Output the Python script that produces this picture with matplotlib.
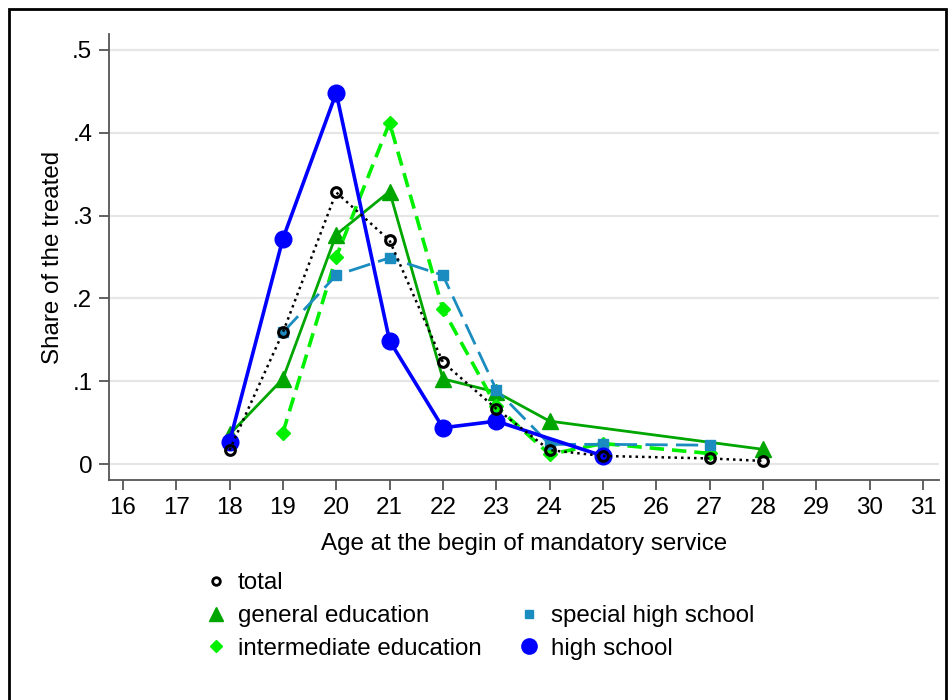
import matplotlib.pyplot as plt
from matplotlib.lines import Line2D
from matplotlib.patches import Rectangle

plt.rcParams['font.family'] = ['Liberation Sans', 'DejaVu Sans']

# Age at the begin of mandatory service, share of the treated
age_total = [18, 19, 20, 21, 22, 23, 24, 25, 27, 28]
share_total = [0.017, 0.159, 0.328, 0.270, 0.123, 0.067, 0.017, 0.010, 0.007, 0.004]

age_general = [18, 19, 20, 21, 22, 23, 24, 28]
share_general = [0.036, 0.103, 0.277, 0.329, 0.103, 0.087, 0.052, 0.018]

age_inter = [19, 20, 21, 22, 23, 24, 25, 27]
share_inter = [0.038, 0.250, 0.412, 0.187, 0.070, 0.012, 0.025, 0.013]

age_special = [19, 20, 21, 22, 23, 24, 25, 27]
share_special = [0.159, 0.228, 0.249, 0.228, 0.090, 0.024, 0.024, 0.023]

age_high = [18, 19, 20, 21, 22, 23, 25]
share_high = [0.027, 0.272, 0.448, 0.149, 0.044, 0.052, 0.010]

xticks = list(range(16, 32))
yticks = [0, 0.1, 0.2, 0.3, 0.4, 0.5]
yticklabels = ["0", ".1", ".2", ".3", ".4", ".5"]

fig = plt.figure(figsize=(9.52, 7.0), dpi=100)
ax = fig.add_axes([0.1145, 0.3143, 0.8718, 0.6371])

# outer frame
fig.patches.append(Rectangle((9 / 952, -0.05), (946 - 9) / 952, 1.05 - 9 / 700,
                             transform=fig.transFigure, fill=False,
                             edgecolor='black', linewidth=2))

c_general = '#00a600'
c_inter = '#00f000'
c_special = '#1a8cbf'
c_high = '#0000ff'

ax.plot(age_general, share_general, color=c_general, lw=2, marker='^', ms=11,
        label='general education', zorder=3)
ax.plot(age_inter, share_inter, color=c_inter, lw=2.6, ls=(0, (4, 2.2)), marker='D', ms=7.5,
        label='intermediate education', zorder=4)
ax.plot(age_special, share_special, color=c_special, lw=2, ls=(0, (8, 3)), marker='s', ms=7.5,
        label='special high school', zorder=5)
ax.plot(age_high, share_high, color=c_high, lw=2.6, marker='o', ms=12,
        label='high school', zorder=6)
ax.plot(age_total, share_total, color='black', lw=1.8, ls=(0, (1, 1.6)), marker='o', ms=7,
        mfc='none', mew=2.2, label='total', zorder=7)

ax.set_xlim(15.74, 31.3)
ax.set_ylim(-0.019, 0.519)
ax.set_xticks(xticks)
ax.set_yticks(yticks)
ax.set_yticklabels(yticklabels)
ax.grid(axis='y', color='#e6e6e6', lw=1.6)
ax.set_axisbelow(True)
for s in ['top', 'right']:
    ax.spines[s].set_visible(False)
for s in ['left', 'bottom']:
    ax.spines[s].set_color('#555555')
    ax.spines[s].set_linewidth(1.3)
ax.tick_params(direction='out', length=7, width=1.3, color='#555555',
               labelsize=17.4, pad=5)
ax.set_xlabel('Age at the begin of mandatory service', fontsize=17.4, labelpad=10)
ax.set_ylabel('Share of the treated', fontsize=17.4, labelpad=6)

def mk(marker, color, ms, mfc=None, mew=1):
    return Line2D([], [], ls='none', marker=marker, color=color, ms=ms,
                  mfc=mfc if mfc else color, mew=mew)

handles = [mk('o', 'black', 5.5, 'none', 2),
           mk('^', c_general, 10),
           mk('D', c_inter, 6),
           Line2D([], [], ls='none'),
           mk('s', c_special, 5.5),
           mk('o', c_high, 11)]
labels = ['total', 'general education', 'intermediate education', '',
          'special high school', 'high school']
fig.legend(handles, labels, ncol=2, loc='upper left', bbox_to_anchor=(0.2025, 0.2),
           frameon=False, fontsize=17.4, handlelength=0.9, handletextpad=0.47,
           columnspacing=1.5, labelspacing=0.45, borderpad=0)

fig.savefig('out.png', dpi=100)
